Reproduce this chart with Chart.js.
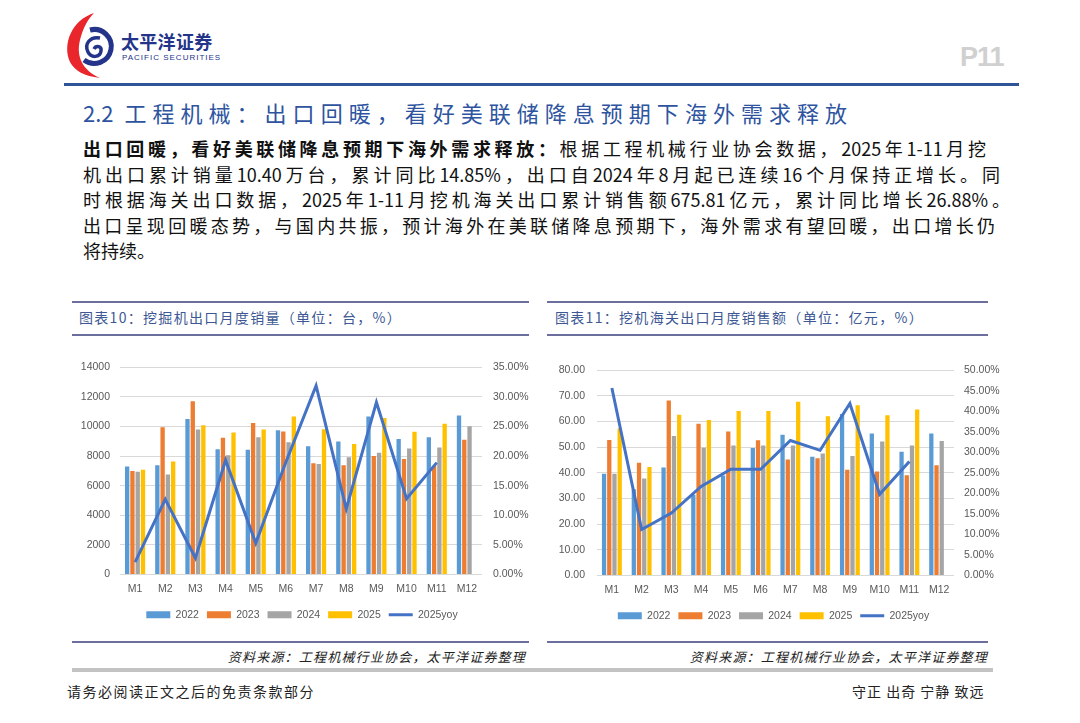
<!DOCTYPE html>
<html>
<head>
<meta charset="utf-8">
<script src="https://cdn.jsdelivr.net/npm/chart.js@4.4.1/dist/chart.umd.min.js"></script>
<style>
  html, body { margin: 0; padding: 0; background: #fff; }
  body { width: 1080px; height: 723px; position: relative; overflow: hidden; font-family: "Noto Sans CJK SC", sans-serif; }
  .abs { position: absolute; }
  .brand { left: 121px; top: 28px; font-size: 18px; line-height: 26px; font-weight: 700; color: #24348a; letter-spacing: 0.3px; }
  .brand-en { left: 122px; top: 53px; font-family: "Liberation Sans", sans-serif; font-size: 8px; color: #24348a; letter-spacing: 1px; }
  .pageno { left: 960px; top: 42px; font-family: "Liberation Sans", sans-serif; font-size: 27px; font-weight: 700; color: #d0d0d0; letter-spacing: -1px; }
  .toprule { left: 64px; top: 83px; width: 955px; height: 3px; background: #2f5597; }
  .heading { left: 83px; top: 97px; width: 764px; font-size: 22px; line-height: 30px; color: #2e54a0; text-align: justify; text-align-last: justify; white-space: nowrap; }
  .para div { position: absolute; left: 83px; font-size: 18px; line-height: 24px; color: #111; text-align: justify; text-align-last: justify; white-space: nowrap; }
  .para b { font-weight: 700; }
  .frame { height: 0; border-top: 2px solid #6c6e9e; }
  .ctitle { font-size: 14px; color: #3d5894; letter-spacing: 1.3px; }
  .source { font-size: 13px; font-style: italic; color: #222; letter-spacing: 1.2px; text-align: right; }
  .grayrule { height: 4px; background: #c3c3c3; }
  .foot { font-size: 14px; color: #222; letter-spacing: 1.5px; top: 681px; }
  .box { position: absolute; }
</style>
</head>
<body>
<svg class="abs" style="left:60px;top:8px" width="60" height="75" viewBox="0 0 60 75">
  <path d="M34 5 C12 12 2 36 10 54 C15 63 24 68 40 70 C22 62 16 48 20 32 C23 20 28 11 34 5 Z" fill="#e8262c"/>
  <path d="M30 22 A17 17 0 1 1 24 52" fill="none" stroke="#24348a" stroke-width="5"/>
  <path d="M40 30 C30 28 24 36 28 44 C31 50 40 50 41 43 C42 38 36 37 34 41" fill="none" stroke="#24348a" stroke-width="3.5"/>
</svg>
<div class="abs brand">太平洋证券</div>
<div class="abs brand-en">PACIFIC SECURITIES</div>
<div class="abs pageno">P11</div>
<div class="abs toprule"></div>

<div class="abs heading">2.2 工程机械：出口回暖，看好美联储降息预期下海外需求释放</div>

<div class="para">
  <div style="top:136px;width:903px"><b>出口回暖，看好美联储降息预期下海外需求释放：</b>根据工程机械行业协会数据，2025年1-11月挖</div>
  <div style="top:162px;width:917px">机出口累计销量10.40万台，累计同比14.85%，出口自2024年8月起已连续16个月保持正增长。同</div>
  <div style="top:187px;width:927px">时根据海关出口数据，2025年1-11月挖机海关出口累计销售额675.81亿元，累计同比增长26.88%。</div>
  <div style="top:213px;width:912px">出口呈现回暖态势，与国内共振，预计海外在美联储降息预期下，海外需求有望回暖，出口增长仍</div>
  <div style="top:238px;text-align:left;text-align-last:left">将持续。</div>
</div>

<!-- left panel -->
<div class="abs frame" style="left:72px;top:301px;width:457px"></div>
<div class="abs ctitle" style="left:79px;top:307px">图表10：挖掘机出口月度销量（单位：台，%）</div>
<div class="abs frame" style="left:72px;top:334px;width:457px"></div>
<div class="box" style="left:72px;top:350px;width:460px;height:280px"><canvas id="unitsChart"></canvas></div>
<div class="abs frame" style="left:72px;top:641px;width:457px"></div>
<div class="abs source" style="left:200px;top:647px;width:326px">资料来源：工程机械行业协会，太平洋证券整理</div>

<!-- right panel -->
<div class="abs frame" style="left:547px;top:301px;width:441px"></div>
<div class="abs ctitle" style="left:555px;top:307px">图表11：挖机海关出口月度销售额（单位：亿元，%）</div>
<div class="abs frame" style="left:547px;top:334px;width:441px"></div>
<div class="box" style="left:547px;top:352px;width:453px;height:279px"><canvas id="valueChart"></canvas></div>
<div class="abs frame" style="left:547px;top:641px;width:441px"></div>
<div class="abs source" style="left:660px;top:647px;width:328px">资料来源：工程机械行业协会，太平洋证券整理</div>

<div class="abs grayrule" style="left:72px;top:668px;width:921px"></div>
<div class="abs foot" style="left:67px">请务必阅读正文之后的免责条款部分</div>
<div class="abs foot" style="left:852px;letter-spacing:1px">守正 出奇 宁静 致远</div>

<script>
const months = ['M1', 'M2', 'M3', 'M4', 'M5', 'M6', 'M7', 'M8', 'M9', 'M10', 'M11', 'M12'];

// 图表10 挖掘机出口月度销量（台）
const units2022 = [7300, 7390, 10500, 8470, 8430, 9750, 8670, 8990, 10670, 9150, 9280, 10740];
const units2023 = [6990, 9950, 11710, 9240, 10230, 9660, 7510, 7390, 8000, 7800, 7350, 9100];
const units2024 = [6950, 6760, 9800, 8050, 9280, 8940, 7460, 7930, 8230, 8520, 8580, 10020];
const units2025 = [7080, 7640, 10090, 9600, 9800, 10670, 9820, 8810, 10580, 9640, 10180];
const unitsYoy2025 = [2.1, 12.7, 2.8, 19.3, 5.3, 19.0, 31.9, 11.1, 29.1, 12.8, 18.9];

// 图表11 挖机海关出口月度销售额（亿元）
const value2022 = [39.7, 33.6, 42.1, 31.5, 39.0, 49.7, 54.9, 46.3, 63.0, 55.4, 48.2, 55.4];
const value2023 = [52.8, 44.0, 68.2, 59.2, 56.1, 52.7, 45.2, 45.7, 41.2, 40.5, 39.1, 43.0];
const value2024 = [39.7, 37.8, 54.4, 49.8, 50.7, 50.7, 50.7, 47.6, 46.6, 52.2, 50.7, 52.4];
const value2025 = [57.4, 42.3, 62.7, 60.6, 64.1, 64.1, 67.7, 62.1, 66.4, 62.5, 64.7];
const valueYoy2025 = [45.7, 11.2, 15.2, 21.7, 25.9, 25.9, 32.9, 30.5, 41.9, 19.8, 27.8];

const yearColors = ['#5b9bd5', '#ed7d31', '#a5a5a5', '#ffc000'];
const yoyColor = '#4472c4';
const tickFont = { family: 'Liberation Sans', size: 10.5 };
const tickColor = '#595959';

function barSet(label, data, color) {
    return {
        type: 'bar', label: label, data: data,
        backgroundColor: color, borderWidth: 0,
        yAxisID: 'y', order: 1, pointStyle: 'rect',
        categoryPercentage: 0.7, barPercentage: 0.82
    };
}

function makeChart(id, series, yoy, leftAxis, rightAxis, topPad) {
    const datasets = series.map((s, i) => barSet(s.label, s.data, yearColors[i]));
    datasets.push({
        type: 'line', label: '2025yoy', data: yoy,
        borderColor: yoyColor, backgroundColor: yoyColor, borderWidth: 3,
        pointRadius: 0, tension: 0, yAxisID: 'y1', order: 0, pointStyle: 'line'
    });
    return new Chart(id, {
        data: { labels: months, datasets: datasets },
        options: {
            responsive: true,
            maintainAspectRatio: false,
            animation: false,
            layout: { padding: { top: topPad, left: 0, right: 0, bottom: 0 } },
            plugins: {
                tooltip: { enabled: false },
                legend: {
                    position: 'bottom',
                    labels: {
                        usePointStyle: true, pointStyleWidth: 24, boxHeight: 7,
                        padding: 8, color: tickColor, font: tickFont,
                        sort: (a, b) => a.datasetIndex - b.datasetIndex
                    }
                }
            },
            scales: {
                x: {
                    grid: { display: false }, border: { display: false },
                    ticks: { color: tickColor, font: tickFont, padding: 0, autoSkip: false, maxRotation: 0 },
                    afterFit: (scale) => { scale.height = 27; }
                },
                y: {
                    position: 'left', min: 0, max: leftAxis.max,
                    grid: { color: '#d9d9d9', drawTicks: false }, border: { display: false },
                    ticks: { stepSize: leftAxis.step, color: tickColor, font: tickFont, padding: leftAxis.pad,
                             callback: leftAxis.format },
                    afterFit: (scale) => { scale.width = leftAxis.width; }
                },
                y1: {
                    position: 'right', min: 0, max: rightAxis.max,
                    grid: { display: false, drawTicks: false }, border: { display: false },
                    ticks: { stepSize: rightAxis.step, color: tickColor, font: tickFont, padding: rightAxis.pad,
                             callback: (v) => v.toFixed(2) + '%' },
                    afterFit: (scale) => { scale.width = rightAxis.width; }
                }
            }
        }
    });
}

makeChart('unitsChart',
    [{ label: '2022', data: units2022 }, { label: '2023', data: units2023 },
     { label: '2024', data: units2024 }, { label: '2025', data: units2025 }],
    unitsYoy2025,
    { max: 14000, step: 2000, pad: 10, width: 48, format: (v) => String(v) },
    { max: 35, step: 5, pad: 11, width: 50 }, 12);

makeChart('valueChart',
    [{ label: '2022', data: value2022 }, { label: '2023', data: value2023 },
     { label: '2024', data: value2024 }, { label: '2025', data: value2025 }],
    valueYoy2025,
    { max: 80, step: 10, pad: 12, width: 50, format: (v) => v.toFixed(2) },
    { max: 50, step: 5, pad: 10, width: 46 }, 11);
</script>
</body>
</html>
